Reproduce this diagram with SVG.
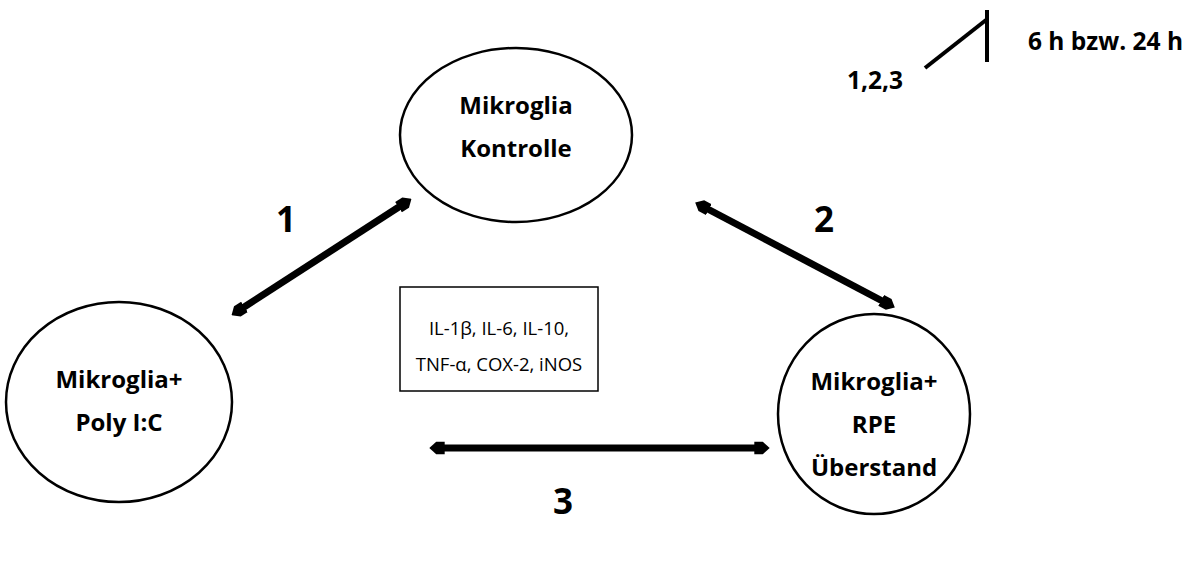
<svg xmlns="http://www.w3.org/2000/svg" width="1195" height="566" viewBox="0 0 1195 566">
<style>
.node{fill:#fff;stroke:#000;stroke-width:2.5}
.nt{font-family:"Open Sans","Liberation Sans",sans-serif;font-weight:bold;font-size:24px;text-anchor:middle;fill:#000}
.lbl{font-family:"Open Sans","Liberation Sans",sans-serif;font-weight:bold;font-size:35px;text-anchor:middle;fill:#000}
.bt{font-family:"Open Sans","Liberation Sans",sans-serif;font-size:18.5px;text-anchor:middle;fill:#000}
.lg{font-family:"Open Sans","Liberation Sans",sans-serif;font-weight:bold;font-size:24.5px;fill:#000}
.conn{stroke:#000;stroke-width:7;fill:none;marker-start:url(#head);marker-end:url(#head)}
</style>
<defs>
<marker id="head" viewBox="0 0 4 4" refX="2" refY="2" markerWidth="2.2" markerHeight="2.2" orient="auto-start-reverse" markerUnits="strokeWidth">
<path d="M0,0.4 L2.2,0.4 L4,2 L2.2,3.6 L0,3.6 Z" fill="#000"/>
</marker>
</defs>
<rect width="1195" height="566" fill="#fff"/>
<g id="connectors">
<line class="conn" x1="238" y1="311" x2="405" y2="203"/>
<line class="conn" x1="702" y1="206" x2="888" y2="304"/>
<line class="conn" x1="437" y1="448" x2="762" y2="448"/>
</g>
<g id="node-kontrolle">
<ellipse class="node" cx="516" cy="135" rx="116" ry="87"/>
<text class="nt" x="516" y="114">Mikroglia</text>
<text class="nt" x="516" y="157">Kontrolle</text>
</g>
<g id="node-polyic">
<ellipse class="node" cx="119" cy="402" rx="113" ry="100"/>
<text class="nt" x="119" y="388">Mikroglia+</text>
<text class="nt" x="119" y="431">Poly I:C</text>
</g>
<g id="node-rpe">
<ellipse class="node" cx="874" cy="414" rx="96" ry="100"/>
<text class="nt" x="874" y="390">Mikroglia+</text>
<text class="nt" x="874" y="433">RPE</text>
<text class="nt" x="874" y="476">Überstand</text>
</g>
<g id="node-box">
<rect x="400" y="287" width="198" height="104" fill="#fff" stroke="#000" stroke-width="1.5"/>
<text class="bt" x="499" y="335">IL-1β, IL-6, IL-10,</text>
<text class="bt" x="499" y="371">TNF-α, COX-2, iNOS</text>
</g>
<g id="labels">
<text class="lbl" x="286" y="232">1</text>
<text class="lbl" x="824" y="232">2</text>
<text class="lbl" x="563" y="514">3</text>
</g>
<g id="legend">
<line x1="925" y1="68" x2="986" y2="20" stroke="#000" stroke-width="4"/>
<line x1="987" y1="10" x2="987" y2="62" stroke="#000" stroke-width="4"/>
<text class="lg" x="1028" y="50">6 h bzw. 24 h</text>
<text class="lg" x="847" y="89">1,2,3</text>
</g>
</svg>
